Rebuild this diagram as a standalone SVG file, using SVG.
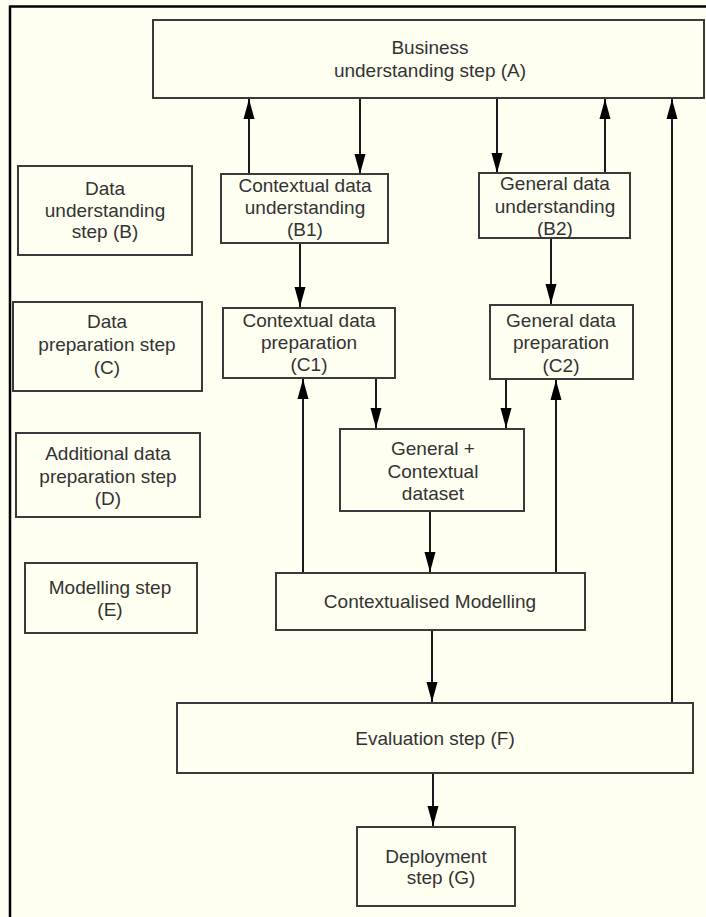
<svg xmlns="http://www.w3.org/2000/svg" width="706" height="917" viewBox="0 0 706 917">
<style>
.box{fill:#FEFEF1;stroke:#3a3a3a;stroke-width:2}
.t{font-family:"Liberation Sans",Arial,sans-serif;font-size:19px;fill:#333;text-anchor:middle}
.c{stroke:#1a1a1a;stroke-width:2;fill:none;marker-end:url(#ah)}
</style>
<defs>
<marker id="ah" markerUnits="userSpaceOnUse" markerWidth="20" markerHeight="12" refX="20" refY="6" orient="auto">
<path d="M0,0.5 L20,6 L0,11.5 z" fill="#000"/>
</marker>
</defs>
<rect x="0" y="0" width="706" height="917" fill="#FEFEF1"/>
<g id="frame">
<line x1="10" y1="6.5" x2="706" y2="6.5" stroke="#000" stroke-width="2.5"/>
<line x1="10" y1="5.5" x2="10" y2="917" stroke="#000" stroke-width="2.5"/>
</g>
<g id="connectors">
<line class="c" x1="249" y1="174" x2="249" y2="99"/>
<line class="c" x1="360" y1="99" x2="360" y2="174"/>
<line class="c" x1="497" y1="99" x2="497" y2="173"/>
<line class="c" x1="605" y1="173" x2="605" y2="99"/>
<line class="c" x1="672" y1="703" x2="672" y2="99"/>
<line class="c" x1="300" y1="243" x2="300" y2="307"/>
<line class="c" x1="551" y1="238" x2="551" y2="304"/>
<line class="c" x1="376" y1="378" x2="376" y2="428"/>
<line class="c" x1="506" y1="379" x2="506" y2="428"/>
<line class="c" x1="303" y1="573" x2="303" y2="379"/>
<line class="c" x1="556" y1="573" x2="556" y2="380"/>
<line class="c" x1="430" y1="511" x2="430" y2="572"/>
<line class="c" x1="432" y1="630" x2="432" y2="702"/>
<line class="c" x1="433" y1="773" x2="433" y2="826"/>
</g>
<g id="A">
<rect class="box" x="153" y="20" width="551" height="78"/>
<text class="t" x="430" y="54">Business</text>
<text class="t" x="430" y="77">understanding step (A)</text>
</g>
<g id="B">
<rect class="box" x="18" y="166" width="174" height="89"/>
<text class="t" x="105" y="195">Data</text>
<text class="t" x="105" y="217">understanding</text>
<text class="t" x="105" y="238">step (B)</text>
</g>
<g id="C">
<rect class="box" x="13" y="302" width="189" height="89"/>
<text class="t" x="107" y="328">Data</text>
<text class="t" x="107" y="351">preparation step</text>
<text class="t" x="107" y="374">(C)</text>
</g>
<g id="D">
<rect class="box" x="16" y="433" width="184" height="84"/>
<text class="t" x="108" y="460">Additional data</text>
<text class="t" x="108" y="483">preparation step</text>
<text class="t" x="108" y="505">(D)</text>
</g>
<g id="E">
<rect class="box" x="25" y="563" width="172" height="70"/>
<text class="t" x="110" y="594">Modelling step</text>
<text class="t" x="110" y="616">(E)</text>
</g>
<g id="B1">
<rect class="box" x="221" y="174" width="167" height="69"/>
<text class="t" x="305" y="192">Contextual data</text>
<text class="t" x="305" y="214">understanding</text>
<text class="t" x="305" y="236">(B1)</text>
</g>
<g id="B2">
<rect class="box" x="479" y="173" width="151" height="65"/>
<text class="t" x="555" y="190">General data</text>
<text class="t" x="555" y="213">understanding</text>
<text class="t" x="555" y="235">(B2)</text>
</g>
<g id="C1">
<rect class="box" x="223" y="308" width="172" height="70"/>
<text class="t" x="309" y="327">Contextual data</text>
<text class="t" x="309" y="349">preparation</text>
<text class="t" x="309" y="371">(C1)</text>
</g>
<g id="C2">
<rect class="box" x="490" y="305" width="143" height="74"/>
<text class="t" x="561" y="327">General data</text>
<text class="t" x="561" y="349">preparation</text>
<text class="t" x="561" y="372">(C2)</text>
</g>
<g id="dataset">
<rect class="box" x="340" y="429" width="184" height="82"/>
<text class="t" x="433" y="455">General +</text>
<text class="t" x="433" y="478">Contextual</text>
<text class="t" x="433" y="500">dataset</text>
</g>
<g id="modelling">
<rect class="box" x="276" y="573" width="309" height="57"/>
<text class="t" x="430" y="608">Contextualised Modelling</text>
</g>
<g id="F">
<rect class="box" x="177" y="703" width="516" height="70"/>
<text class="t" x="435" y="745">Evaluation step (F)</text>
</g>
<g id="G">
<rect class="box" x="357" y="827" width="158" height="79"/>
<text class="t" x="436" y="863">Deployment</text>
<text class="t" x="441" y="884">step (G)</text>
</g>
</svg>
